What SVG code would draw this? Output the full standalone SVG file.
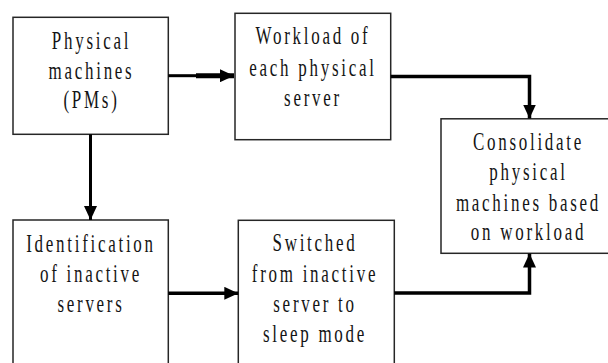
<svg xmlns="http://www.w3.org/2000/svg" width="608" height="363" viewBox="0 0 608 363">
  <style>
    .box { fill: #ffffff; stroke: #262626; stroke-width: 1.5; }
    .lbl { font-family: "Liberation Serif", "Times New Roman", serif; font-size: 25px; letter-spacing: 4px; fill: #141414; text-anchor: middle; }
    .wire { fill: none; stroke: #000000; stroke-width: 3.5; stroke-linejoin: miter; }
    .wire-thin { fill: none; stroke: #000000; stroke-width: 3; }
    .wire-bold { fill: none; stroke: #000000; stroke-width: 5; }
  </style>
  <defs>
    <marker id="head" markerUnits="userSpaceOnUse" markerWidth="14" markerHeight="13" refX="14" refY="6.5" orient="auto">
      <path d="M0,0 L14,6.5 L0,13 Z" fill="#000000"/>
    </marker>
  </defs>

  <rect width="608" height="363" fill="#ffffff"/>

  <!-- physical machines -->
  <g id="pm">
    <rect class="box" x="13" y="17.3" width="155.3" height="117"/>
    <g transform="translate(91.5 0) scale(0.68 1)">
      <text class="lbl" x="0" y="49">Physical</text>
      <text class="lbl" x="0" y="79">machines</text>
      <text class="lbl" x="0" y="108.5">(PMs)</text>
    </g>
  </g>

  <!-- workload per server -->
  <g id="workload">
    <rect class="box" x="235" y="13.3" width="155.7" height="126.4"/>
    <g transform="translate(313 0) scale(0.68 1)">
      <text class="lbl" x="0" y="44">Workload of</text>
      <text class="lbl" x="0" y="76">each physical</text>
      <text class="lbl" x="0" y="106">server</text>
    </g>
  </g>

  <!-- consolidation step -->
  <g id="consolidate">
    <rect class="box" x="441" y="118.8" width="180" height="134.5"/>
    <g transform="translate(528.5 0) scale(0.68 1)">
      <text class="lbl" x="0" y="150.5">Consolidate</text>
      <text class="lbl" x="0" y="180">physical</text>
      <text class="lbl" x="0" y="211">machines based</text>
      <text class="lbl" x="0" y="240">on workload</text>
    </g>
  </g>

  <!-- inactive server detection -->
  <g id="identify">
    <rect class="box" x="13" y="220" width="155.3" height="160"/>
    <g transform="translate(91 0) scale(0.68 1)">
      <text class="lbl" x="0" y="251.7">Identification</text>
      <text class="lbl" x="0" y="281.7">of inactive</text>
      <text class="lbl" x="0" y="311.7">servers</text>
    </g>
  </g>

  <!-- sleep mode switch -->
  <g id="sleep">
    <rect class="box" x="238.3" y="220.3" width="156" height="160"/>
    <g transform="translate(315 0) scale(0.68 1)">
      <text class="lbl" x="0" y="251">Switched</text>
      <text class="lbl" x="0" y="281.7">from inactive</text>
      <text class="lbl" x="0" y="311.7">server to</text>
      <text class="lbl" x="0" y="341.7">sleep mode</text>
    </g>
  </g>

  <!-- connectors -->
  <g id="connectors">
    <path class="wire-thin" d="M168.3,75.7 H197.5"/>
    <path class="wire-bold" d="M196,75.7 H234" marker-end="url(#head)"/>
    <path class="wire" d="M390.7,76.5 H529.5 V118.5" marker-end="url(#head)"/>
    <path class="wire-thin" d="M90.5,134.3 V220" marker-end="url(#head)"/>
    <path class="wire" d="M168.3,293.3 H238.3" marker-end="url(#head)"/>
    <path class="wire" d="M394.3,293 H529.5 V253.5" marker-end="url(#head)"/>
  </g>
</svg>
